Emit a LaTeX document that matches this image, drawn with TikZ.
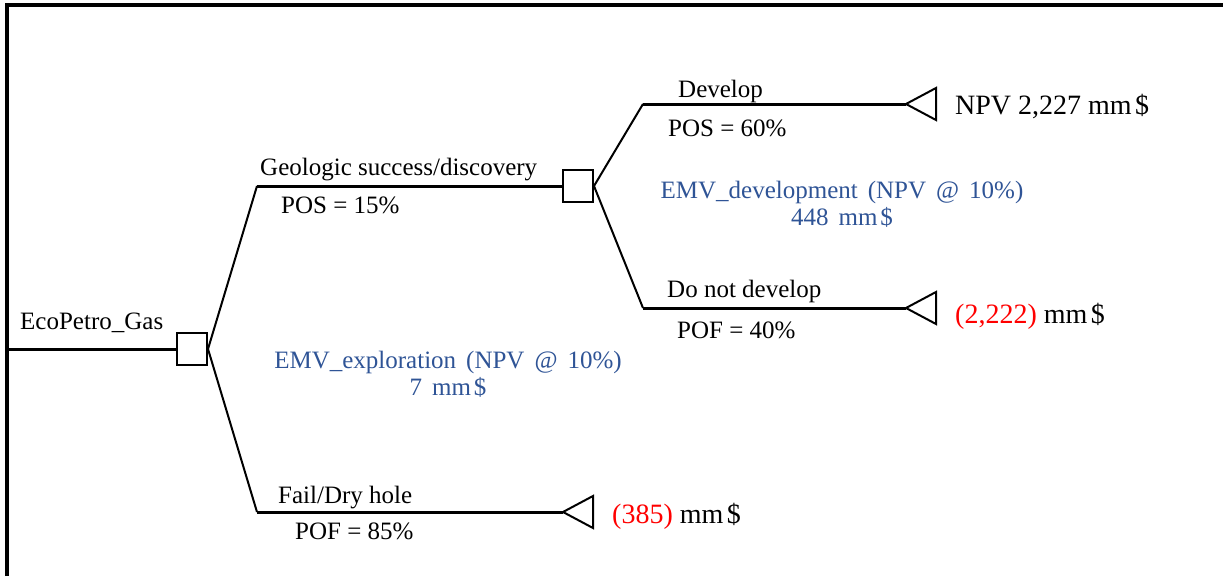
\documentclass[tikz,border=0pt]{standalone}
\usepackage{fontspec}
\setmainfont{Liberation Serif}
\newfontfamily\emvfont[WordSpace=1.6]{Liberation Serif}
\usetikzlibrary{calc}
\definecolor{emvblue}{RGB}{47,84,150}
\definecolor{lossred}{RGB}{255,0,0}
\begin{document}
\begin{tikzpicture}[x=1pt,y=-1pt,
  hline/.style={line width=3pt},
  dline/.style={line width=2pt},
  decbox/.style={draw,line width=2pt,minimum width=30pt,minimum height=32pt,inner sep=0pt},
  endtri/.style={draw,line width=2pt,line join=miter},
  lbl/.style={anchor=base west,inner sep=0pt,font=\fontsize{25}{28}\selectfont},
  emv/.style={anchor=base,inner sep=0pt,text=emvblue,font=\emvfont\fontsize{25}{28}\selectfont},
  pay/.style={anchor=base west,inner sep=0pt,font=\fontsize{28}{32}\selectfont}]
\useasboundingbox (0,0) rectangle (1223,576);
% frame
\draw[line width=3.2pt] (7,576) -- (7,5) -- (1223,5);
% nodes
\coordinate (r) at (7,349);
\node[decbox] (d1) at (192,349) {};
\node[decbox] (d2) at (578,186) {};
\coordinate (g1) at (257,186);
\coordinate (f1) at (257,512);
\coordinate (t3) at (563,512);
\coordinate (dv) at (643,104);
\coordinate (t1) at (906,104);
\coordinate (dn) at (643,308);
\coordinate (t2) at (906,308);
% connectors
\draw[hline] (r) -- (d1.west);
\draw[dline] (d1.east) -- (g1);
\draw[hline] (g1) -- (d2.west);
\draw[dline] (d1.east) -- (f1);
\draw[hline] (f1) -- (t3);
\draw[dline] (d2.east) -- (dv);
\draw[hline] (dv) -- (t1);
\draw[dline] (d2.east) -- (dn);
\draw[hline] (dn) -- (t2);
% end triangles
\draw[endtri] (t1) -- ++(30,-16) -- ++(0,32) -- cycle;
\draw[endtri] (t2) -- ++(30,-16) -- ++(0,32) -- cycle;
\draw[endtri] (t3) -- ++(30,-16) -- ++(0,32) -- cycle;
% labels
\node[lbl] (lroot) at (20,329) {EcoPetro\_Gas};
\node[lbl] (lgeo) at (260,175) {Geologic success/discovery};
\node[lbl] (lpos1) at (281,213) {POS = 15\%};
\node[lbl] (ldev) at (678,97) {Develop};
\node[lbl] (lpos2) at (668,136) {POS = 60\%};
\node[lbl] (lndev) at (667,297) {Do not develop};
\node[lbl] (lpof2) at (677,338) {POF = 40\%};
\node[lbl] (lfail) at (278,503) {Fail/Dry hole};
\node[lbl] (lpof1) at (295,539) {POF = 85\%};
\node[emv] (emvd1) at (842,198) {EMV\_development (NPV @ 10\%)};
\node[emv] (emvd2) at (842,225) {448 mm\hspace{0.12em}\$};
\node[emv] (emve1) at (448,368) {EMV\_exploration (NPV @ 10\%)};
\node[emv] (emve2) at (448,395) {7 mm\hspace{0.12em}\$};
\node[pay] (p1) at (955,114) {NPV 2,227 mm\hspace{0.12em}\$};
\node[pay] (p2) at (955,323) {\textcolor{lossred}{(2,222)} mm\hspace{0.12em}\$};
\node[pay] (p3) at (612,523) {\textcolor{lossred}{(385)} mm\hspace{0.12em}\$};
\end{tikzpicture}
\end{document}
